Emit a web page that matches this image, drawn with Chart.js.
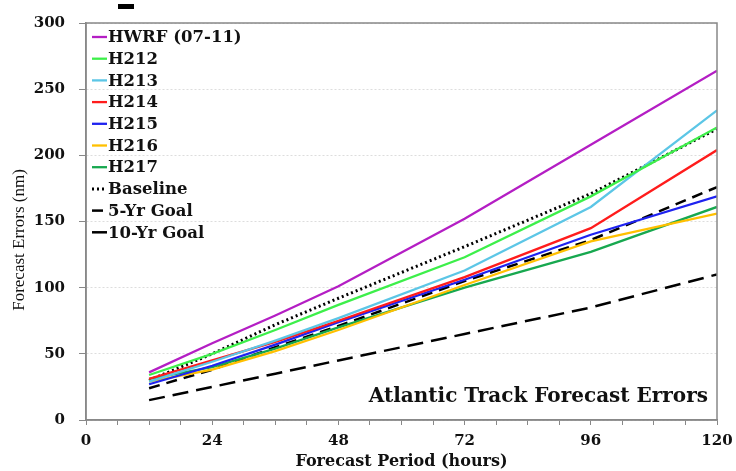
<!DOCTYPE html>
<html>
<head>
<meta charset="utf-8">
<script src="https://cdn.jsdelivr.net/npm/chart.js@4/dist/chart.umd.min.js"></script>
<style>
  body { margin: 0; background: #fff; }
  #wrap { width: 736px; height: 471px; }
</style>
</head>
<body>
<div id="wrap"><canvas id="track-errors" width="736" height="471"></canvas></div>
<script>
// forecast hours and errors (nm)
const hours = [12, 24, 36, 48, 72, 96, 120];
const hwrf = [36, 58, 79, 101, 152, 208, 264];
const h212 = [34, 50, 68, 87, 123, 169, 221];
const h213 = [29, 44, 60, 77, 113, 161, 234];
const h214 = [31, 45, 59, 75, 108, 145, 204];
const h215 = [27, 41, 57, 74, 106, 140, 169];
const h216 = [29, 38, 52, 68, 102, 135, 156];
const h217 = [31, 40, 54, 70, 100, 127, 161];
const baseline = [30, 50, 72, 92, 131, 171, 220];
const goal5 = [24, 38, 55, 71, 105, 136, 176];
const goal10 = [15, 25, 35, 45, 65, 85, 110];
const xTicks = [0, 24, 48, 72, 96, 120];

const pts = arr => hours.map((h, i) => ({ x: h, y: arr[i] }));

function series(label, data, color, dash, width) {
    return {
        label: label,
        data: pts(data),
        borderColor: color,
        backgroundColor: color,
        borderWidth: width || 2.3,
        borderDash: dash || [],
        pointRadius: 0,
        fill: false,
        tension: 0
    };
}

const datasets = [
    series('HWRF (07-11)', hwrf, '#b41ec4'),
    series('H212', h212, '#3def4a'),
    series('H213', h213, '#5cc6e6'),
    series('H214', h214, '#ff1c1c'),
    series('H215', h215, '#1e22f0'),
    series('H216', h216, '#ffc000'),
    series('H217', h217, '#17a84f'),
    series('Baseline', baseline, '#000', [2, 3], 3),
    series('5-Yr Goal', goal5, '#000', [11, 7], 2.5),
    series('10-Yr Goal', goal10, '#000', [16, 8], 2.5)
];

// frame, legend, y title and the label in the corner
const decorations = {
    id: 'decorations',
    afterDraw(chart) {
        const { ctx, chartArea: a } = chart;
        ctx.save();
        ctx.strokeStyle = '#888';
        ctx.lineWidth = 1.5;
        ctx.strokeRect(a.left, a.top, a.right - a.left, a.bottom - a.top);

        // legend inside the plot, top-left
        ctx.font = 'bold 16.5px "DejaVu Serif"';
        ctx.textBaseline = 'middle';
        ctx.fillStyle = '#111';
        chart.data.datasets.forEach((ds, i) => {
            const y = a.top + 14 + i * 21.7;
            ctx.beginPath();
            ctx.strokeStyle = ds.borderColor;
            ctx.lineWidth = ds.borderWidth;
            ctx.setLineDash(ds.borderDash);
            ctx.moveTo(a.left + 6, y);
            ctx.lineTo(a.left + 21, y);
            ctx.stroke();
            ctx.setLineDash([]);
            ctx.fillText(ds.label, a.left + 22, y + 1);
        });

        ctx.textAlign = 'right';
        ctx.textBaseline = 'alphabetic';
        ctx.font = 'bold 20px "DejaVu Serif"';
        ctx.fillText('Atlantic Track Forecast Errors', a.right - 9, a.bottom - 18);

        ctx.translate(20, 240);
        ctx.rotate(-Math.PI / 2);
        ctx.textAlign = 'center';
        ctx.textBaseline = 'middle';
        ctx.font = '17px "Liberation Serif"';
        ctx.fillText('Forecast Errors (nm)', 0, 0);
        ctx.restore();

        ctx.fillStyle = '#000';
        ctx.fillRect(118, 4, 16, 5);
    }
};

Chart.defaults.font.family = '"DejaVu Serif"';
Chart.defaults.font.weight = 'bold';
Chart.defaults.color = '#111';

new Chart(document.getElementById('track-errors'), {
    type: 'line',
    data: { datasets: datasets },
    options: {
        responsive: false,
        animation: false,
        devicePixelRatio: 1,
        layout: { padding: { top: 21, right: 19, bottom: 0, left: 0 } },
        plugins: { legend: { display: false }, tooltip: { enabled: false } },
        scales: {
            x: {
                type: 'linear',
                min: 0,
                max: 120,
                afterBuildTicks: s => {
                    s.ticks = [];
                    for (let v = 0; v <= 120; v += 6) s.ticks.push({ value: v });
                },
                afterFit: s => {
                    s.height = 51;
                    s.paddingLeft = 0;
                    s.paddingRight = 0;
                },
                ticks: {
                    autoSkip: false,
                    maxRotation: 0,
                    padding: 7,
                    font: { size: 15 },
                    callback: v => xTicks.includes(v) ? String(v) : ''
                },
                grid: { drawOnChartArea: false, tickLength: 5, color: '#888' },
                border: { color: '#888', width: 1.5 },
                title: {
                    display: true,
                    text: 'Forecast Period (hours)',
                    font: { size: 16 },
                    padding: { top: 0, bottom: 0 }
                }
            },
            y: {
                min: 0,
                max: 300,
                afterFit: s => { s.width = 86; },
                ticks: { stepSize: 50, padding: 14, font: { size: 15 } },
                grid: {
                    color: '#ddd',
                    tickColor: '#888',
                    tickLength: 7
                },
                border: { color: '#888', width: 1.5, dash: [2, 2] }
            }
        }
    },
    plugins: [decorations]
});
</script>
</body>
</html>
